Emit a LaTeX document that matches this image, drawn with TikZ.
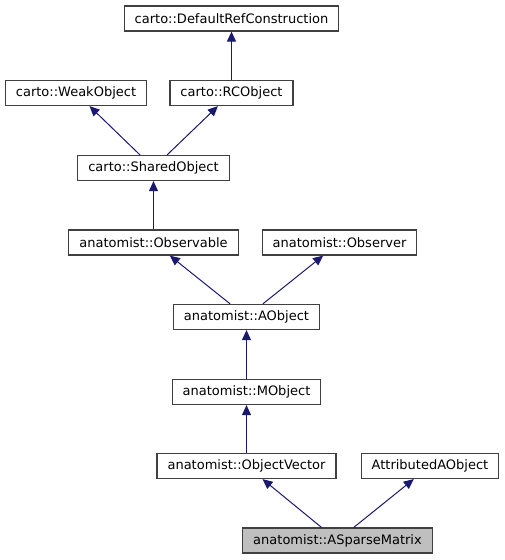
\documentclass[tikz,border=0pt]{standalone}
\usepackage{fontspec}
\setmainfont{DejaVu Sans}
\usetikzlibrary{positioning}
\usetikzlibrary{arrows.meta}
\definecolor{midnight}{HTML}{191970}
\definecolor{boxline}{HTML}{404040}
\tikzset{
    cls/.style = {rectangle, draw=boxline, line width=1.2pt, fill=white, minimum height=25pt, inner xsep=10.5pt, inner ysep=0pt, font=\fontsize{13}{15}\selectfont},
    clsh/.style = {cls, fill=black!25}, % current class
    edgei/.style = {-{Triangle[length=10pt,width=9pt]}, line width=1pt, midnight}
}
\begin{document}
\begin{tikzpicture}[x=1pt, y=-1pt]
  \useasboundingbox (0,0) rectangle (504,560);

  \node[cls] (drc) at (231.5,18.5) {carto::DefaultRefConstruction};
  \node[cls] (wo)  at (76,93)      {carto::WeakObject};
  \node[cls] (rc)  at (231.5,93)   {carto::RCObject};
  \node[cls] (so)  at (153.5,168)  {carto::SharedObject};
  \node[cls] (obl) at (153.5,242.5) {anatomist::Observable};
  \node[cls] (obr) at (339.5,242.5) {anatomist::Observer};
  \node[cls] (ao)  at (246.5,317)  {anatomist::AObject};
  \node[cls] (mo)  at (246.5,392)  {anatomist::MObject};
  \node[cls] (ov)  at (246.5,466)  {anatomist::ObjectVector};
  \node[cls] (aao) at (430,466)    {AttributedAObject};
  \node[clsh] (asm) at (337.5,540.5) {anatomist::ASparseMatrix};

  \draw[edgei] (rc) -- (drc);
  \draw[edgei] (so) -- (wo);
  \draw[edgei] (so) -- (rc);
  \draw[edgei] (obl) -- (so);
  \draw[edgei] (ao) -- (obl);
  \draw[edgei] (ao) -- (obr);
  \draw[edgei] (mo) -- (ao);
  \draw[edgei] (ov) -- (mo);
  \draw[edgei] (asm) -- (ov);
  \draw[edgei] (asm) -- (aao);

\end{tikzpicture}
\end{document}
